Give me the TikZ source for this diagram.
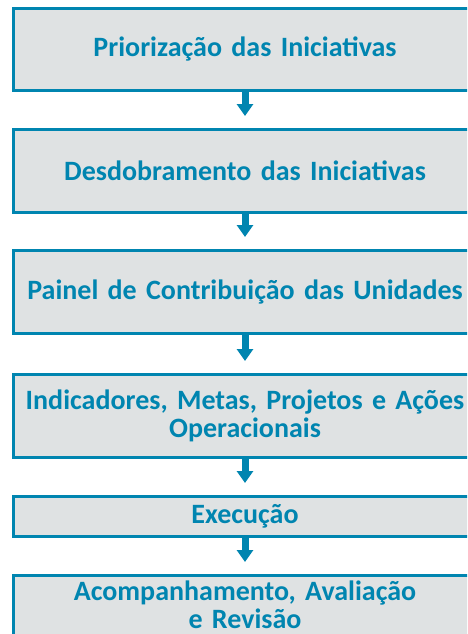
\documentclass[tikz,border=0pt]{standalone}
\usepackage{fontspec}
\setmainfont{Carlito}
\usetikzlibrary{arrows.meta}
\definecolor{PLANblue}{RGB}{0, 133, 176}
\definecolor{PLANgray}{RGB}{223, 226, 227}

\begin{document}
\begin{tikzpicture}[x=1pt, y=-1pt,
	etapa/.style={draw=PLANblue, line width=3pt, fill=PLANgray, text=PLANblue, font=\fontsize{28}{28}\selectfont\bfseries, align=center, text width=455pt, minimum width=463pt, minimum height=83pt, inner sep=0pt},
	seta/.style={draw=PLANblue, line width=7pt, -{Triangle[width=16pt, length=12pt]}, shorten >=12pt}]
	\clip (0,0) rectangle (467,634);
	\node[etapa, minimum height=82pt] (prior) at (245, 49.5) {Priorização das Iniciativas};
	\node[etapa] (desdob) at (245, 171) {Desdobramento das Iniciativas};
	\node[etapa] (painel) at (245, 292) {Painel de Contribuição das Unidades};
	\node[etapa] (indic) at (245, 416) {Indicadores, Metas, Projetos e Ações\\Operacionais};
	\node[etapa, minimum height=40pt] (exec) at (245, 516.5) {Execução};
	\node[etapa, anchor=north, inner ysep=5pt, text depth=60pt] (acomp) at (245, 574) {Acompanhamento, Avaliação\\e Revisão};
	\draw[seta] (prior.south) -- (desdob.north);
	\draw[seta] (desdob.south) -- (painel.north);
	\draw[seta] (painel.south) -- (indic.north);
	\draw[seta] (indic.south) -- (exec.north);
	\draw[seta] (exec.south) -- (acomp.north);
\end{tikzpicture}
\end{document}
